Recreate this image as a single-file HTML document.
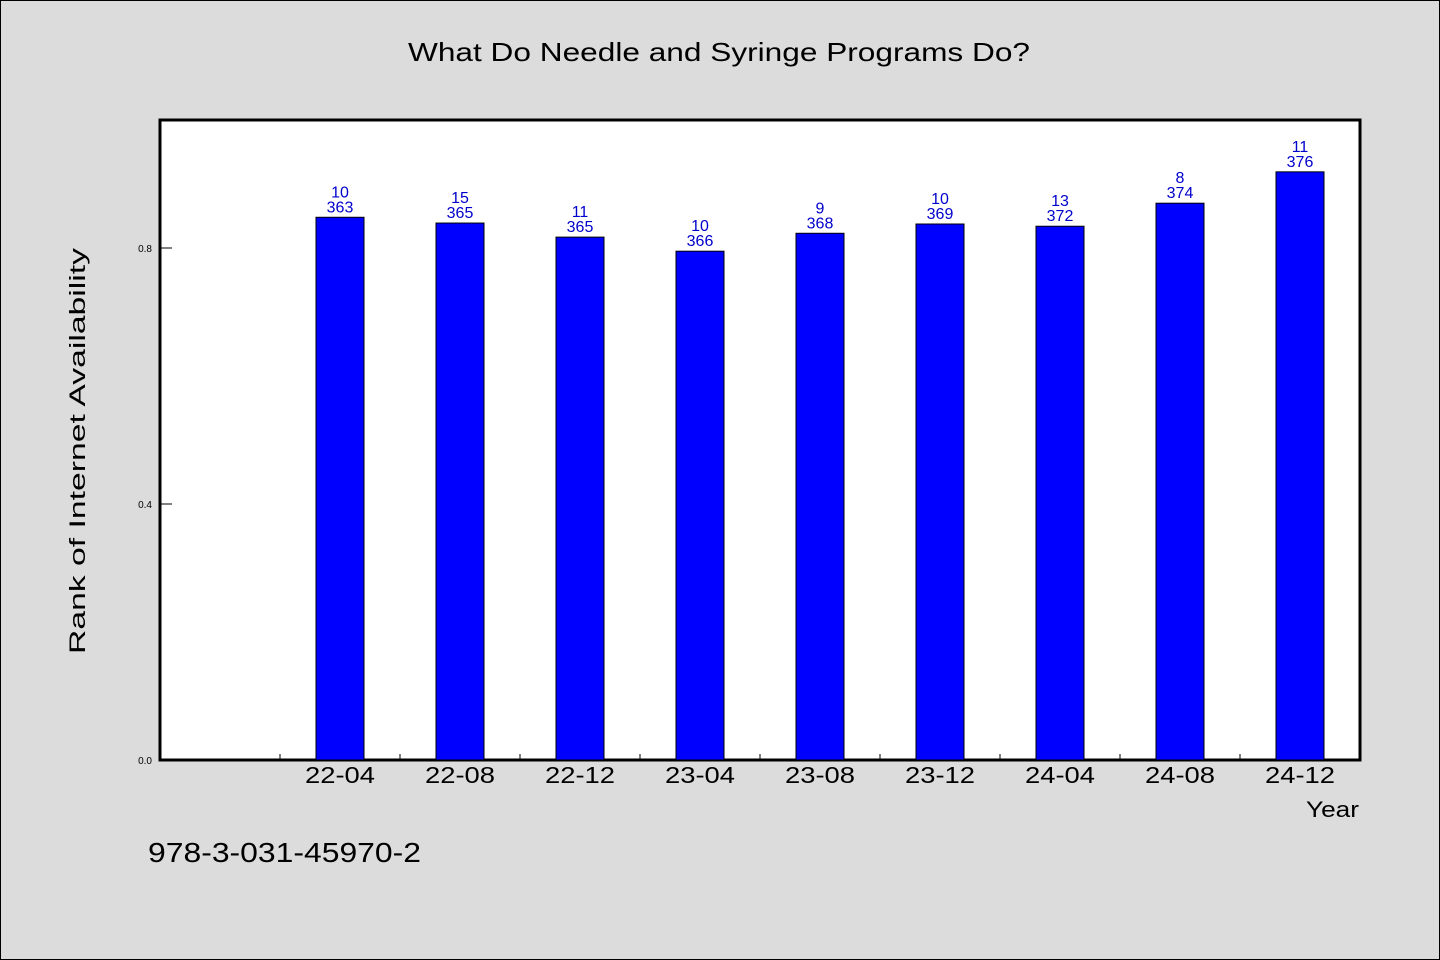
<!DOCTYPE html>
<html><head><meta charset="utf-8"><style>
html,body{margin:0;padding:0;background:#dcdcdc;}
svg{display:block;font-family:"WenQuanYi Zen Hei Mono","WenQuanYi Zen Hei","Liberation Sans",sans-serif;}
</style></head><body>
<svg id="chart" width="1440" height="960" viewBox="0 0 1440 960">
<rect x="0.5" y="0.5" width="1439" height="959" fill="#dcdcdc" stroke="#000" stroke-width="1"/>
<text x="408" y="61" font-size="26" textLength="622" lengthAdjust="spacingAndGlyphs">What Do Needle and Syringe Programs Do?</text>
<rect x="160" y="120" width="1200" height="640" fill="#fff" stroke="#000" stroke-width="3"/>
<g id="yticks"></g><g id="xticks"></g><g id="bars"></g>
<text transform="translate(85,654) rotate(-90)" font-size="22" textLength="406" lengthAdjust="spacingAndGlyphs">Rank of Internet Availability</text>
<text x="1306" y="817" font-size="22" textLength="53" lengthAdjust="spacingAndGlyphs">Year</text>
<text x="148" y="862" font-size="28" textLength="273" lengthAdjust="spacingAndGlyphs">978-3-031-45970-2</text>
</svg>
<script>
const categories = ["22-04","22-08","22-12","23-04","23-08","23-12","24-04","24-08","24-12"];
const values = [0.848,0.839,0.817,0.795,0.823,0.8375,0.834,0.870,0.919];
const topLabels = ["10","15","11","10","9","10","13","8","11"];
const bottomLabels = ["363","365","365","366","368","369","372","374","376"];
const yTicks = [0.0,0.4,0.8];
const yTickLabels = ["0.0","0.4","0.8"];
const NS="http://www.w3.org/2000/svg";
const x0=160,y0=760,slot=120;
function yScale(v){return y0 - v*640;}
function xCenter(i){return x0 + slot*(i+1) + slot/2;}
function mk(tag,attrs,parent){const e=document.createElementNS(NS,tag);for(const k in attrs)e.setAttribute(k,attrs[k]);parent.appendChild(e);return e;}
const gy=document.getElementById('yticks'),gx=document.getElementById('xticks'),gb=document.getElementById('bars');
yTicks.forEach((v,i)=>{
  const y=yScale(v);
  const l=mk('line',{x1:160,x2:172,y1:y,y2:y,stroke:'#000','stroke-width':1},gy);
  
  
  const t=mk('text',{x:152,y:y+4,'text-anchor':'end','font-size':10},gy);
  t.textContent=yTickLabels[i];
  
  
});
for(let i=0;i<categories.length;i++){
  const bx=x0+slot*(i+1);
  const l=mk('line',{x1:bx,x2:bx,y1:754,y2:760,stroke:'#000','stroke-width':1},gx);
  
  
}
categories.forEach((c,i)=>{
  const cx=xCenter(i);
  const t=mk('text',{x:cx-35,y:783,'font-size':23,textLength:70,lengthAdjust:'spacingAndGlyphs'},gx);
  t.textContent=c;
  
  
  const y=yScale(values[i]);
  const r=mk('rect',{x:cx-24,y:y,width:48,height:y0-y,fill:'#0000ff',stroke:'#000','stroke-width':1},gb);
  
  
  const t1=mk('text',{x:cx,y:y-20,'text-anchor':'middle','font-size':16,fill:'#0000cc'},gb);
  t1.textContent=topLabels[i];
  
  
  const t2=mk('text',{x:cx,y:y-5,'text-anchor':'middle','font-size':16,fill:'#0000cc'},gb);
  t2.textContent=bottomLabels[i];
  
  
});
</script>
</body></html>
